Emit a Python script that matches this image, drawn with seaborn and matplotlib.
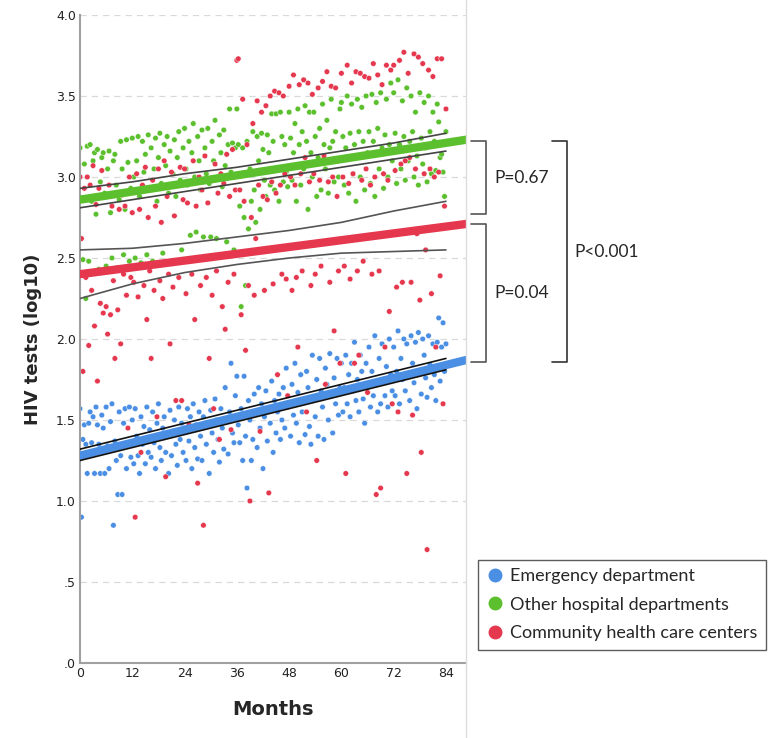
import seaborn as sns
import matplotlib.pyplot as plt
import numpy as np
import pandas as pd
from matplotlib.lines import Line2D
from matplotlib.ticker import FuncFormatter

sns.set_theme(style="white")
plt.rcParams['font.family'] = ['DejaVu Sans']

sites = ["Emergency department", "Other hospital departments", "Community health care centers"]
colors = ["#4A8FE3", "#5CBF2E", "#E5384F"]

# monthly series, roughly three values per month (months 0-84)
ed_tests = [
    1.57, 0.90, 1.38, 1.47, 1.35, 1.17, 1.48, 1.55, 1.36, 1.52, 1.17, 1.58, 1.47, 1.35, 1.17, 1.53, 1.45, 1.17,
    1.58, 1.34, 1.20, 1.49, 1.60, 0.85, 1.37, 1.25, 1.04, 1.55, 1.28, 1.04, 1.48, 1.57, 1.20, 1.35, 1.58, 1.27,
    1.50, 1.23, 1.57, 1.40, 1.28, 1.17, 1.52, 1.35, 1.46, 1.23, 1.58, 1.30, 1.44, 1.27, 1.55, 1.36, 1.20, 1.48,
    1.60, 1.33, 1.25, 1.45, 1.52, 1.30, 1.40, 1.17, 1.56, 1.28, 1.43, 1.50, 1.35, 1.22, 1.58, 1.38, 1.48, 1.30,
    1.45, 1.25, 1.57, 1.37, 1.52, 1.20, 1.60, 1.33, 1.47, 1.26, 1.55, 1.40, 1.25, 1.52, 1.62, 1.35, 1.48, 1.17,
    1.56, 1.42, 1.30, 1.63, 1.50, 1.38, 1.24, 1.57, 1.45, 1.32, 1.70, 1.50, 1.29, 1.55, 1.85, 1.42, 1.36, 1.65,
    1.77, 1.47, 1.36, 1.57, 1.25, 1.77, 1.40, 1.08, 1.62, 1.50, 1.25, 1.38, 1.66, 1.55, 1.33, 1.70, 1.45, 1.60,
    1.20, 1.52, 1.68, 1.37, 1.57, 1.48, 1.74, 1.30, 1.62, 1.42, 1.55, 1.66, 1.38, 1.50, 1.70, 1.45, 1.82, 1.58,
    1.60, 1.40, 1.72, 1.53, 1.85, 1.48, 1.67, 1.36, 1.78, 1.55, 1.62, 1.41, 1.80, 1.70, 1.46, 1.35, 1.90, 1.63,
    1.52, 1.75, 1.40, 1.88, 1.68, 1.58, 1.38, 1.82, 1.72, 1.50, 1.91, 1.65, 1.42, 1.76, 1.60, 1.88, 1.53, 1.70,
    1.85, 1.55, 1.70, 1.90, 1.60, 1.78, 1.52, 1.85, 1.68, 1.98, 1.62, 1.75, 1.55, 1.90, 1.80, 1.63, 1.48, 1.85,
    1.70, 1.95, 1.58, 1.80, 1.65, 2.02, 1.72, 1.55, 1.88, 1.60, 1.97, 1.75, 1.65, 1.83, 1.58, 2.00, 1.78, 1.68,
    1.95, 1.65, 1.80, 2.05, 1.60, 1.88, 1.75, 2.00, 1.68, 1.97, 1.78, 1.62, 2.02, 1.85, 1.73, 1.98, 1.57, 2.04,
    1.80, 1.66, 2.00, 1.90, 1.76, 1.64, 2.02, 1.84, 1.70, 1.97, 1.78, 1.62, 1.98, 2.13, 1.74, 1.95, 2.10, 1.80, 1.97,
]
other_tests = [
    3.18, 2.87, 2.49, 3.08, 2.25, 3.19, 2.48, 3.20, 2.85, 3.10, 3.15, 2.77, 3.17, 2.43, 2.97, 3.12, 3.15, 2.90,
    2.45, 3.05, 3.16, 2.78, 2.50, 3.10, 3.14, 2.95, 2.44, 2.86, 3.22, 3.05, 2.52, 2.80, 3.23, 3.09, 2.48, 2.93,
    3.24, 3.00, 2.50, 3.10, 3.25, 2.88, 2.47, 3.22, 3.03, 3.14, 2.52, 3.26, 2.92, 3.18, 2.48, 3.05, 3.24, 2.85,
    3.12, 3.27, 2.96, 2.53, 3.20, 3.07, 3.25, 2.90, 3.16, 2.47, 3.02, 3.23, 2.88, 3.12, 3.28, 2.98, 2.55, 3.18,
    3.30, 3.05, 2.95, 3.22, 2.64, 3.15, 3.33, 3.00, 2.66, 3.25, 3.10, 2.92, 3.29, 2.63, 3.18, 3.02, 3.30, 2.96,
    2.63, 3.22, 3.10, 3.35, 2.62, 3.00, 3.26, 3.15, 2.94, 3.29, 3.07, 2.60, 3.20, 3.42, 3.03, 3.21, 2.55, 3.18,
    3.42, 3.20, 2.82, 2.20, 3.18, 2.75, 2.33, 3.22, 2.68, 3.05, 2.85, 3.28, 2.92, 2.72, 3.25, 3.10, 2.80, 3.27,
    3.17, 2.98, 2.88, 3.26, 3.15, 2.95, 3.39, 3.22, 2.92, 3.39, 3.05, 2.85, 3.40, 3.25, 2.97, 3.20, 3.03, 2.94,
    3.40, 3.24, 2.98, 3.15, 3.33, 2.85, 3.42, 3.20, 2.95, 3.28, 3.05, 3.44, 3.22, 2.80, 3.40, 3.15, 3.00, 3.40,
    3.25, 2.88, 3.12, 3.30, 2.92, 3.45, 3.20, 3.05, 3.35, 2.90, 3.18, 3.48, 3.22, 2.97, 3.28, 3.10, 3.00, 3.42,
    3.46, 3.25, 2.95, 3.18, 3.50, 2.90, 3.27, 3.45, 3.02, 3.20, 2.85, 3.48, 3.28, 3.00, 3.43, 3.22, 2.92, 3.50,
    3.15, 3.28, 2.96, 3.51, 3.22, 2.88, 3.46, 3.30, 3.05, 3.52, 3.18, 2.93, 3.26, 3.48, 3.00, 3.20, 3.58, 3.10,
    3.52, 3.27, 2.96, 3.60, 3.20, 3.05, 3.47, 3.25, 2.98, 3.55, 3.10, 3.22, 3.50, 3.28, 3.00, 3.40, 3.13, 2.95,
    3.52, 3.24, 3.08, 3.46, 3.18, 2.97, 3.50, 3.28, 3.02, 3.40, 3.22, 3.04, 3.45, 3.34, 3.12, 3.14, 3.03, 2.88, 3.28,
]
chc_tests = [
    3.00, 2.62, 1.80, 2.93, 2.38, 3.00, 1.96, 2.95, 2.30, 3.07, 2.08, 2.83, 1.74, 2.93, 2.22, 3.04, 2.16, 2.88,
    2.20, 2.03, 2.95, 2.15, 2.82, 2.36, 1.88, 2.90, 2.18, 2.80, 1.97, 2.89, 2.40, 2.82, 2.27, 1.45, 3.00, 2.38,
    2.78, 2.35, 0.90, 3.02, 2.26, 2.80, 1.30, 2.95, 2.33, 3.06, 2.12, 2.75, 2.42, 1.88, 2.98, 2.30, 2.82, 1.52,
    3.05, 2.36, 2.72, 2.25, 3.10, 1.15, 2.88, 2.40, 1.97, 3.03, 2.32, 2.76, 1.62, 2.95, 2.38, 3.06, 1.62, 2.86,
    3.05, 2.28, 2.84, 1.47, 2.96, 2.40, 3.10, 2.12, 2.82, 1.11, 3.00, 2.33, 2.92, 0.85, 3.13, 2.38, 2.84, 1.88,
    2.98, 2.27, 1.57, 3.08, 2.42, 2.90, 1.38, 3.02, 2.20, 2.96, 2.06, 3.14, 2.35, 2.88, 1.44, 3.17, 2.40, 2.92,
    3.72, 3.73, 2.92, 2.15, 3.48, 2.85, 1.93, 3.20, 2.33, 1.00, 2.75, 3.33, 2.27, 2.62, 3.47, 2.95, 1.43, 3.40,
    2.88, 2.30, 3.44, 2.86, 1.05, 3.50, 2.97, 2.34, 3.53, 2.90, 1.78, 3.52, 2.95, 2.40, 3.50, 3.02, 2.37, 1.65,
    3.56, 3.00, 2.30, 3.63, 2.95, 2.38, 1.95, 3.57, 3.02, 2.42, 3.60, 3.12, 1.55, 3.58, 2.97, 2.33, 3.51, 3.02,
    2.40, 1.25, 3.55, 2.98, 2.45, 3.59, 3.13, 1.72, 3.65, 2.97, 2.35, 3.56, 3.00, 2.05, 3.55, 2.88, 2.42, 1.85,
    3.64, 3.00, 2.45, 1.17, 3.69, 2.96, 2.37, 3.58, 3.02, 1.85, 3.65, 2.42, 1.90, 3.64, 2.98, 2.48, 3.62, 3.05,
    1.67, 3.61, 2.95, 2.40, 3.70, 3.00, 1.04, 3.63, 2.42, 1.08, 3.57, 3.02, 1.95, 3.69, 2.98, 2.17, 3.66, 1.60,
    3.69, 3.04, 2.32, 1.55, 3.72, 3.08, 2.35, 3.77, 3.10, 1.17, 3.64, 3.12, 2.35, 1.53, 3.76, 3.05, 2.65, 3.74,
    2.24, 1.30, 3.70, 3.02, 2.55, 0.70, 3.66, 3.05, 2.28, 3.62, 3.00, 1.95, 3.73, 3.03, 2.39, 3.73, 1.60, 2.82, 3.42,
]

# fitted trends (start / end of axis) and confidence bounds
trend_months = [0, 88.6]
ed_trend = [1.28, 1.87]
other_trend = [2.86, 3.23]
chc_trend = [2.40, 2.71]

ci_months = [0, 12, 24, 36, 48, 60, 72, 84]
ed_ci_hi = [1.32, 1.40, 1.48, 1.56, 1.64, 1.72, 1.80, 1.88]
ed_ci_lo = [1.25, 1.33, 1.41, 1.49, 1.57, 1.65, 1.73, 1.81]
other_ci_hi = [2.93, 2.97, 3.02, 3.06, 3.11, 3.16, 3.21, 3.27]
other_ci_lo = [2.81, 2.86, 2.91, 2.96, 3.01, 3.06, 3.11, 3.16]
chc_ci_hi = [2.55, 2.56, 2.59, 2.63, 2.67, 2.72, 2.79, 2.85]
chc_ci_lo = [2.25, 2.34, 2.41, 2.46, 2.50, 2.53, 2.54, 2.55]

p_labels = ["P=0.67", "P=0.04", "P<0.001"]
p_spans = [(3.22, 2.77), (2.71, 1.86), (3.22, 1.86)]

frames = []
for name, vals in zip(sites, [ed_tests, other_tests, chc_tests]):
    frames.append(pd.DataFrame({"month": np.linspace(0, 84, len(vals)), "tests": vals, "site": name}))
df = pd.concat(frames, ignore_index=True)

fig = plt.figure(figsize=(7.74, 7.38), dpi=100)
ax = fig.add_axes([80 / 774, 75 / 738, 386 / 774, 648 / 738])

for v in np.arange(0.5, 4.01, 0.5):
    ax.axhline(v, color="#d9d9d9", lw=0.9, ls=(0, (5, 4)), zorder=0)

sns.scatterplot(data=df, x="month", y="tests", hue="site", hue_order=sites, palette=colors,
                s=16, edgecolor="white", linewidth=0.3, legend=False, ax=ax, zorder=2)

for trend, c in zip([ed_trend, other_trend, chc_trend], colors):
    sns.lineplot(x=trend_months, y=trend, color=c, lw=6, ax=ax, zorder=3)

for hi, lo, c in [(ed_ci_hi, ed_ci_lo, "#111111"), (other_ci_hi, other_ci_lo, "#444444"),
                  (chc_ci_hi, chc_ci_lo, "#555555")]:
    sns.lineplot(x=ci_months, y=hi, color=c, lw=1.2, ax=ax, zorder=4)
    sns.lineplot(x=ci_months, y=lo, color=c, lw=1.2, ax=ax, zorder=4)

ax.set_xlim(0, 88.6)
ax.set_ylim(0, 4.0)
ax.set_xticks(range(0, 85, 12))
ax.set_yticks(np.arange(0, 4.01, 0.5))
ax.yaxis.set_major_formatter(FuncFormatter(lambda v, p: f"{v:.1f}".lstrip("0") if v < 1 else f"{v:.1f}"))
ax.tick_params(length=0, labelsize=9, pad=3, colors="#222222")
for side in ["top", "right"]:
    ax.spines[side].set_visible(False)
for side in ["left", "bottom"]:
    ax.spines[side].set_color("#a0a0a0")
    ax.spines[side].set_linewidth(1.5)
ax.set_xlabel("Months", fontsize=14, fontweight="bold", labelpad=14)
ax.set_ylabel("HIV tests (log10)", fontsize=13, fontweight="bold", labelpad=10)

# significance brackets to the right of the plot
tr = ax.get_yaxis_transform()
bracket_x = [(1.013, 1.052, "#555555"), (1.013, 1.052, "#555555"), (1.223, 1.262, "#333333")]
text_x = [1.073, 1.073, 1.282]
for (top, bot), (x0, x1, c), tx, lab in zip(p_spans, bracket_x, text_x, p_labels):
    ax.plot([x0, x1, x1, x0], [top, top, bot, bot], color=c, lw=1.2, transform=tr, clip_on=False)
    ax.text(tx, (top + bot) / 2, lab, transform=tr, fontsize=12.5, va="center", ha="left",
            family=["Lato", "DejaVu Sans"])

handles = [Line2D([], [], marker="o", ls="", color=c, markersize=9) for c in colors]
leg = fig.legend(handles, sites, loc="upper left", bbox_to_anchor=(478 / 774, 1 - 560 / 738),
                 borderaxespad=0, frameon=True, fancybox=False, handletextpad=0.35, borderpad=0.45,
                 labelspacing=0.7, handlelength=1.0,
                 prop={"family": ["Lato", "DejaVu Sans"], "size": 13})
leg.get_frame().set_edgecolor("#333333")
leg.get_frame().set_linewidth(1.0)

fig.add_artist(Line2D([466 / 774, 466 / 774], [0, 1], color="#dcdcdc", lw=1, transform=fig.transFigure))

fig.savefig("out.png", dpi=100)
